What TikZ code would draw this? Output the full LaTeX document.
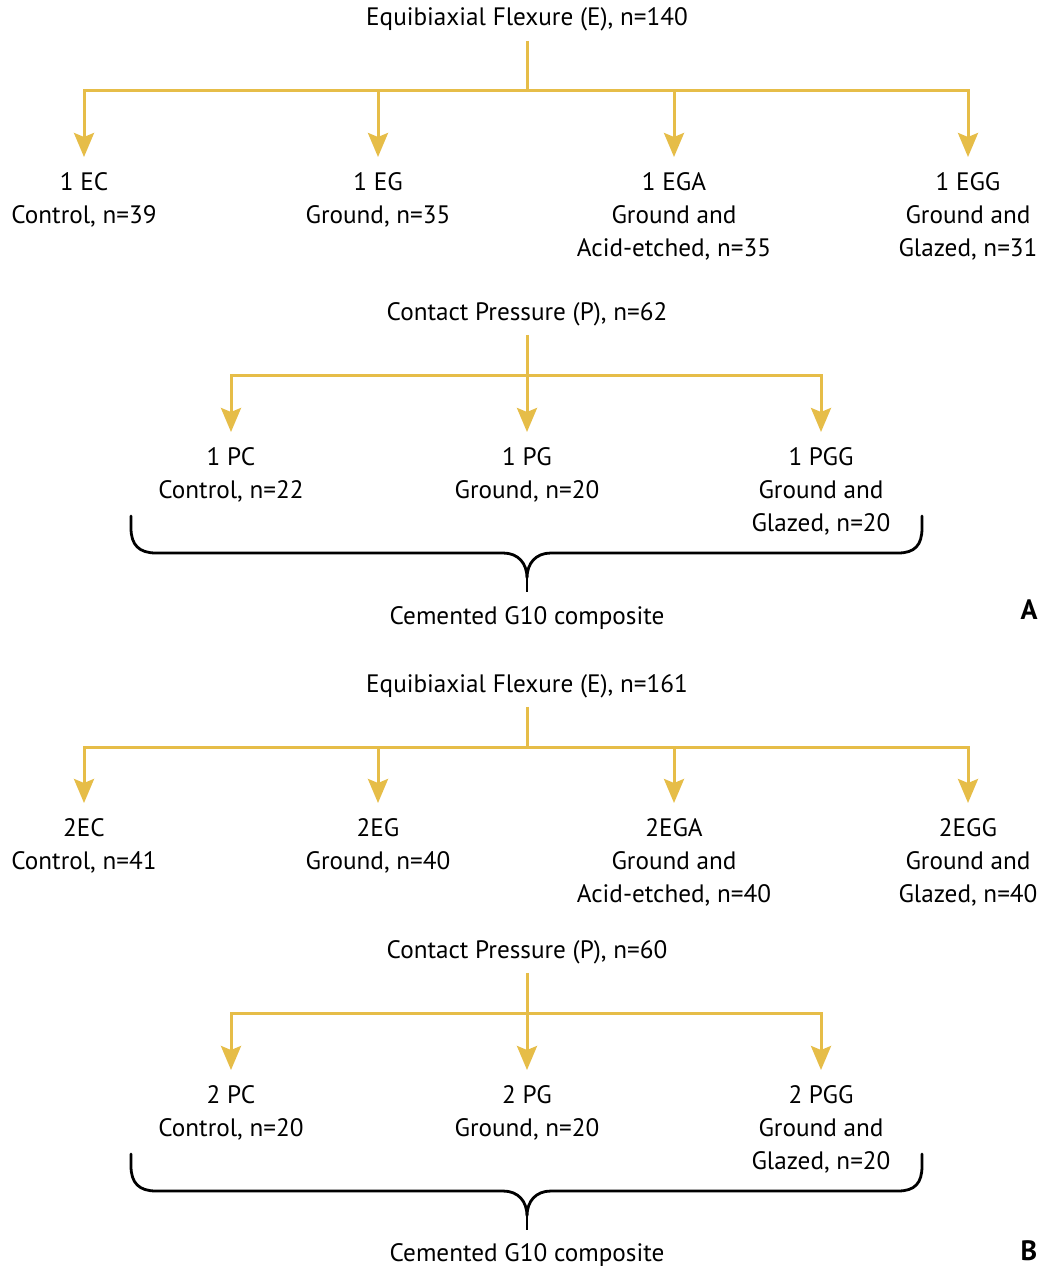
\documentclass[tikz,border=0pt]{standalone}
\usepackage{fontspec}
\setmainfont{PT Sans}
\usetikzlibrary{arrows.meta}
\definecolor{gold}{RGB}{230,189,72}
\begin{document}
\begin{tikzpicture}[x=0.75pt,y=-0.75pt,
  font=\fontsize{18.9}{24.75}\selectfont,
  every node/.style={inner sep=0pt},
  ttl/.style={anchor=base, outer ysep=7pt},
  leaf/.style={anchor=north, align=center, outer ysep=12pt},
  panel/.style={anchor=base, font=\fontsize{21}{25}\selectfont\bfseries},
  conn/.style={draw=gold, line width=2.25pt},
  arr/.style={conn, -{Stealth[length=18pt,width=15pt,inset=3pt]}},
  cbrace/.pic={
    \draw[black, line width=2.1pt, line cap=round]
      (131,516) -- (131,528) .. controls (131,545) and (139,553) .. (156,553)
      -- (503,553) .. controls (518,553) and (527,563) .. (527,578)
      .. controls (527,563) and (536,553) .. (551,553)
      -- (898,553) .. controls (915,553) and (922,545) .. (922,528) -- (922,516);
    \draw[black, line width=2.1pt] (527,576) -- (527,592);
  }
]
\fill[white] (0,0) rectangle (1044,1266);
\useasboundingbox (0,0) rectangle (1044,1266);

% ---------------- Panel A ----------------
\node[ttl] (tA) at (527,26) {Equibiaxial Flexure (E), n=140};
\coordinate (jA) at (527,91);
\node[leaf] (a1) at (84,157)  {1 EC\\Control, n=39};
\node[leaf] (a2) at (378,157) {1 EG\\Ground, n=35};
\node[leaf] (a3) at (674,157) {1 EGA\\Ground and\\Acid-etched, n=35};
\node[leaf] (a4) at (968,157) {1 EGG\\Ground and\\Glazed, n=31};
\draw[conn] (tA.south) -- (jA);
\foreach \n in {a1,a2,a3,a4} \draw[arr] (jA) -| (\n.north);

\node[ttl] (tP) at (527,320) {Contact Pressure (P), n=62};
\coordinate (jP) at (527,375);
\node[leaf] (p1) at (231,432) {1 PC\\Control, n=22};
\node[leaf] (p2) at (527,432) {1 PG\\Ground, n=20};
\node[leaf] (p3) at (821,432) {1 PGG\\Ground and\\Glazed, n=20};
\draw[conn] (tP.south) -- (jP);
\foreach \n in {p1,p2,p3} \draw[arr] (jP) -| (\n.north);

\pic at (0,0) {cbrace};
\node[anchor=base] (gA) at (527,624) {Cemented G10 composite};
\node[panel] (lA) at (1029,619) {A};

% ---------------- Panel B ----------------
\node[ttl] (tB) at (527,692) {Equibiaxial Flexure (E), n=161};
\coordinate (jB) at (527,747);
\node[leaf] (b1) at (84,803)  {2EC\\Control, n=41};
\node[leaf] (b2) at (378,803) {2EG\\Ground, n=40};
\node[leaf] (b3) at (674,803) {2EGA\\Ground and\\Acid-etched, n=40};
\node[leaf] (b4) at (968,803) {2EGG\\Ground and\\Glazed, n=40};
\draw[conn] (tB.south) -- (jB);
\foreach \n in {b1,b2,b3,b4} \draw[arr] (jB) -| (\n.north);

\node[ttl] (tQ) at (527,958) {Contact Pressure (P), n=60};
\coordinate (jQ) at (527,1013);
\node[leaf] (q1) at (231,1070) {2 PC\\Control, n=20};
\node[leaf] (q2) at (527,1070) {2 PG\\Ground, n=20};
\node[leaf] (q3) at (821,1070) {2 PGG\\Ground and\\Glazed, n=20};
\draw[conn] (tQ.south) -- (jQ);
\foreach \n in {q1,q2,q3} \draw[arr] (jQ) -| (\n.north);

\pic at (0,638) {cbrace};
\node[anchor=base] (gB) at (527,1261) {Cemented G10 composite};
\node[panel] (lB) at (1029,1260) {B};
\end{tikzpicture}
\end{document}
